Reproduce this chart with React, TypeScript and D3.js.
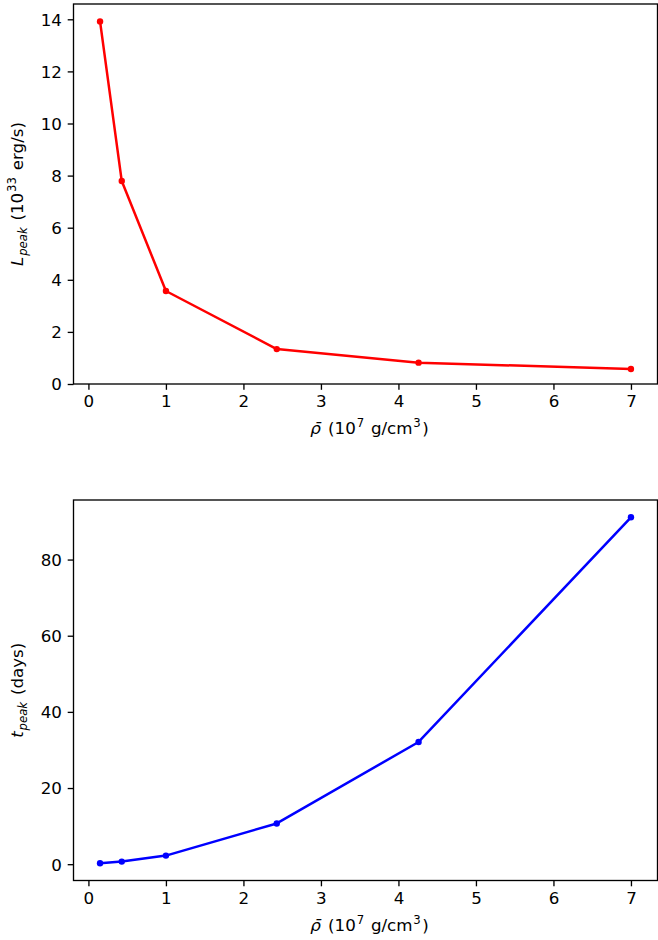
import React, { useEffect, useRef } from "react";
import * as d3 from "d3";

// mean density (10^7 g/cm^3)
const DENSITY = [0.15, 0.43, 1.0, 2.43, 4.26, 7.0];
// peak luminosity (10^33 erg/s)
const L_PEAK = [13.92, 7.79, 3.57, 1.34, 0.82, 0.575];
// time of peak (days)
const T_PEAK = [0.26, 0.68, 2.26, 10.7, 32.1, 91.1];

const X_TICKS = [0, 1, 2, 3, 4, 5, 6, 7];
const L_TICKS = [0, 2, 4, 6, 8, 10, 12, 14];
const T_TICKS = [0, 20, 40, 60, 80];

const W = 658;
const H = 940;
const LEFT = 73.5;
const RIGHT = 657.5;
const FONT = "DejaVu Sans";
const FS = 16.7;
const SMALL = 11.7;
const TICK = 5.8;
const PAD = 5.8;
const SPINE = 1.33;

type Part = { t: string; italic?: boolean; sub?: boolean; sup?: boolean };

const X_LABEL: Part[] = [
  { t: "ρ\u0304", italic: true },
  { t: " (10" },
  { t: "7", sup: true },
  { t: " g/cm" },
  { t: "3", sup: true },
  { t: ")" },
];
const L_LABEL: Part[] = [
  { t: "L", italic: true },
  { t: "peak", italic: true, sub: true },
  { t: " (10" },
  { t: "33", sup: true },
  { t: " erg/s)" },
];
const T_LABEL: Part[] = [
  { t: "t", italic: true },
  { t: "peak", italic: true, sub: true },
  { t: " (days)" },
];

// write mathtext-ish label as tspans (a bit of extra room around scripts, like mathtext)
function richText(sel, parts: Part[]) {
  let shift = 0;
  let prevScript = false;
  parts.forEach((p, i) => {
    const target = p.sub ? 3.6 : p.sup ? -6.8 : 0;
    const script = !!(p.sub || p.sup);
    let dx = 0;
    if (script) dx = 0.8;
    else if (prevScript) dx = 1.5;
    else if (i > 0 && parts[i - 1].italic) dx = 2;
    sel
      .append("tspan")
      .attr("dy", target - shift)
      .attr("dx", dx)
      .style("font-style", p.italic ? "italic" : "normal")
      .style("font-size", script ? `${SMALL}px` : `${FS}px`)
      .text(p.t);
    shift = target;
    prevScript = script;
  });
}

function styleAxis(g) {
  g.select(".domain").remove();
  g.selectAll(".tick line").attr("stroke", "black").attr("stroke-width", SPINE);
  g.selectAll(".tick text")
    .attr("fill", "black")
    .style("font-family", FONT)
    .style("font-size", `${FS}px`);
}

function drawPanel(svg, opts) {
  const { top, bottom, values, ticks, color, label, floorZero } = opts;

  const xExt = d3.extent(DENSITY) as [number, number];
  const xPad = (xExt[1] - xExt[0]) * 0.05;
  const x = d3
    .scaleLinear()
    .domain([xExt[0] - xPad, xExt[1] + xPad])
    .range([LEFT, RIGHT]);

  const yExt = d3.extent(values) as [number, number];
  const yPad = (yExt[1] - yExt[0]) * 0.05;
  const y = d3
    .scaleLinear()
    .domain([floorZero ? 0 : yExt[0] - yPad, yExt[1] + yPad])
    .range([bottom, top]);

  const g = svg.append("g");

  // Axes
  const gx = g
    .append("g")
    .attr("transform", `translate(0,${bottom})`)
    .call(
      d3.axisBottom(x).tickValues(X_TICKS).tickSize(TICK).tickPadding(PAD).tickFormat(d3.format("d"))
    );
  styleAxis(gx);

  const gy = g
    .append("g")
    .attr("transform", `translate(${LEFT},0)`)
    .call(
      d3.axisLeft(y).tickValues(ticks).tickSize(TICK).tickPadding(PAD).tickFormat(d3.format("d"))
    );
  styleAxis(gy);
  gy.selectAll(".tick text").attr("dy", "0.35em");

  // Line + markers
  const pts = DENSITY.map((d, i) => [d, values[i]] as [number, number]);
  const line = d3
    .line<[number, number]>()
    .x((d) => x(d[0]))
    .y((d) => y(d[1]));

  g.append("path")
    .datum(pts)
    .attr("fill", "none")
    .attr("stroke", color)
    .attr("stroke-width", 2.5)
    .attr("stroke-linejoin", "round")
    .attr("d", line);

  g.selectAll(".dot")
    .data(pts)
    .enter()
    .append("circle")
    .attr("cx", (d) => x(d[0]))
    .attr("cy", (d) => y(d[1]))
    .attr("r", 3.2)
    .attr("fill", color);

  // Spines
  g.append("rect")
    .attr("x", LEFT)
    .attr("y", top)
    .attr("width", RIGHT - LEFT)
    .attr("height", bottom - top)
    .attr("fill", "none")
    .attr("stroke", "black")
    .attr("stroke-width", SPINE);

  // x label
  const xl = g
    .append("text")
    .attr("x", (LEFT + RIGHT) / 2 + 4)
    .attr("y", bottom + 50)
    .attr("text-anchor", "middle")
    .style("font-family", FONT)
    .style("font-size", `${FS}px`)
    .attr("fill", "black");
  richText(xl, X_LABEL);

  // y label
  const yl = g
    .append("text")
    .attr("transform", `translate(23,${(top + bottom) / 2}) rotate(-90)`)
    .attr("text-anchor", "middle")
    .style("font-family", FONT)
    .style("font-size", `${FS}px`)
    .attr("fill", "black");
  richText(yl, label);
}

export default function App() {
  const svgRef = useRef<SVGSVGElement>(null);

  useEffect(() => {
    const svg = d3.select(svgRef.current);
    svg.selectAll("*").remove();

    drawPanel(svg, {
      top: 4,
      bottom: 384,
      values: L_PEAK,
      ticks: L_TICKS,
      color: "#ff0000",
      label: L_LABEL,
      floorZero: true,
    });

    drawPanel(svg, {
      top: 500,
      bottom: 880.5,
      values: T_PEAK,
      ticks: T_TICKS,
      color: "#0000ff",
      label: T_LABEL,
      floorZero: false,
    });
  }, []);

  return (
    <svg
      ref={svgRef}
      width={W}
      height={H}
      style={{ position: "absolute", left: 0, top: 0, background: "white" }}
    ></svg>
  );
}
